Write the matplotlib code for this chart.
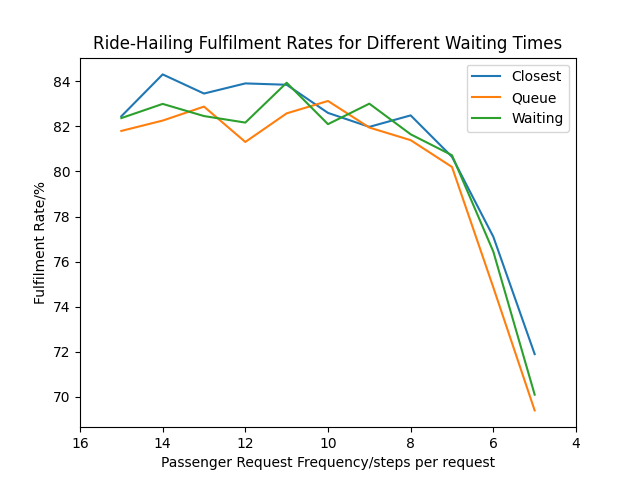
import matplotlib
matplotlib.use("Agg")
import matplotlib.pyplot as plt

freq = [15, 14, 13, 12, 11, 10, 9, 8, 7, 6, 5]
closest = [82.45, 84.31, 83.46, 83.91, 83.85, 82.6, 81.98, 82.49, 80.65, 77.1, 71.89]
queue = [81.8, 82.26, 82.88, 81.31, 82.58, 83.13, 81.95, 81.39, 80.2, 74.85, 69.39]
waiting = [82.37, 83.0, 82.46, 82.17, 83.94, 82.1, 83.01, 81.65, 80.72, 76.44, 70.09]

fig, ax = plt.subplots(figsize=(6.4, 4.8), dpi=100)
ax.plot(freq, closest, label="Closest")
ax.plot(freq, queue, label="Queue")
ax.plot(freq, waiting, label="Waiting")
ax.set_xlim(16, 4)
ax.set_xticks([16, 14, 12, 10, 8, 6, 4])
ax.set_title("Ride-Hailing Fulfilment Rates for Different Waiting Times")
ax.set_xlabel("Passenger Request Frequency/steps per request")
ax.set_ylabel("Fulfilment Rate/%")
ax.legend(loc="upper right")
fig.savefig("out.png")
